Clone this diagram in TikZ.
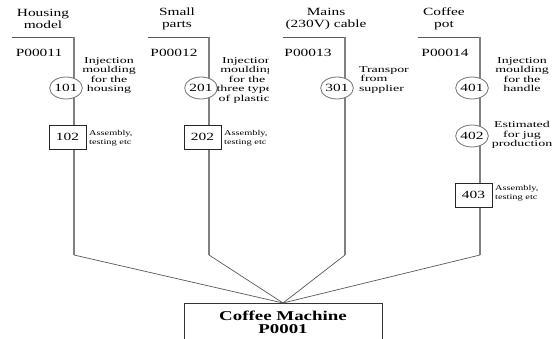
\documentclass[tikz,border=0pt]{standalone}
\usepackage{fontspec}
\setmainfont{Liberation Serif}[FakeStretch=1.4]
\newfontfamily\notefamily{Liberation Serif}[FakeStretch=1.55]
\usetikzlibrary{shapes.geometric}

\tikzset{
  rail/.style={draw=black!65, line width=0.8pt},
  stem/.style={draw=black!50, line width=1.4pt},
  fan/.style={draw=black!65, line width=0.7pt},
  opcircle/.style={ellipse, draw=black!55, line width=0.8pt, fill=white,
    minimum width=30pt, minimum height=22pt, inner sep=0pt,
    font=\fontsize{11}{12}\selectfont},
  opbox/.style={rectangle, draw=black!85, line width=0.8pt, fill=white,
    minimum width=37pt, minimum height=24pt, inner sep=0pt,
    font=\fontsize{11}{12}\selectfont},
  title/.style={align=center, inner sep=0pt, font=\fontsize{11}{12.5}\selectfont},
  partno/.style={inner sep=0pt, font=\fontsize{11}{12}\selectfont},
  note/.style={anchor=north, align=center, inner sep=0pt,
    font=\notefamily\fontsize{9}{9.6}\selectfont},
  smallnote/.style={anchor=north west, align=left, inner sep=0pt,
    font=\fontsize{7.4}{9}\selectfont},
  product/.style={rectangle, draw=black!80, line width=0.9pt, fill=white,
    anchor=north, minimum width=198pt, minimum height=38pt, align=center,
    inner sep=0pt, font=\fontsize{13.5}{13.5}\bfseries\selectfont}
}

\begin{document}
\begin{tikzpicture}[x=1pt, y=-1pt]
\clip (0,0) rectangle (554,339);
\fill[white] (0,0) rectangle (554,339);

% corner points of the four supply branches
\coordinate (l1) at (12,37);  \coordinate (t1) at (74,37);  \coordinate (e1) at (74,255);
\coordinate (l2) at (148,37); \coordinate (t2) at (209,37); \coordinate (e2) at (209,255);
\coordinate (l3) at (283,37); \coordinate (t3) at (345,37); \coordinate (e3) at (345,255);
\coordinate (l4) at (418,37); \coordinate (t4) at (480,37); \coordinate (e4) at (480,255);

% branch lines
\foreach \i in {1,2,3,4} {
  \draw[rail] (l\i) -- (t\i);
  \draw[stem] (t\i) -- (e\i);
}

% branch headings
\node[title] (h1) at (43,19)  {Housing\\model};
\node[title] (h2) at (177,19) {Small\\parts};
\node[title] (h3) at (326,19) {Mains\\(230V) cable};
\node[title] (h4) at (444,19) {Coffee\\pot};

% part numbers
\node[partno] (p1) at (39,53)  {P00011};
\node[partno] (p2) at (174,53) {P00012};
\node[partno] (p3) at (308,53) {P00013};
\node[partno] (p4) at (445,53) {P00014};

% operations
\node[opcircle] (o101) at (66,88)  {101};
\node[opcircle] (o201) at (201,88) {201};
\node[opcircle] (o301) at (337,88) {301};
\node[opcircle] (o401) at (472,88) {401};
\node[opcircle] (o402) at (472,136) {402};
\node[opbox] (o102) at (67.5,137)  {102};
\node[opbox] (o202) at (202.5,137) {202};
\node[opbox] (o403) at (473.5,195) {403};

% operation notes (the two narrow text frames cut off their longer words)
\node[note] (n101) at (109,57) {Injection\\moulding\\for the\\housing};
\begin{scope}
  \clip (210,50) rectangle (268,120);
  \node[note] (n201) at (247,57) {Injection\\moulding\\for the\\three types\\of plastics};
\end{scope}
\begin{scope}
  \clip (355,60) rectangle (408,100);
  \node[note, text width=30pt] (n301) at (374,66) {Transport\\from\\supplier};
\end{scope}
\node[note] (n401) at (522,57) {Injection\\moulding\\for the\\handle};
\node[note] (n402) at (522,121) {Estimated\\for jug\\production};
\node[smallnote] (n102) at (89,130)  {Assembly,\\testing etc};
\node[smallnote] (n202) at (224,130) {Assembly,\\testing etc};
\node[smallnote] (n403) at (495,185) {Assembly,\\testing etc};

% finished product
\node[product] (cm) at (283,303) {Coffee Machine\\P0001};

% branches joining the product
\foreach \i in {1,2,3,4}
  \draw[fan] (e\i) -- (cm.north);
\end{tikzpicture}
\end{document}
